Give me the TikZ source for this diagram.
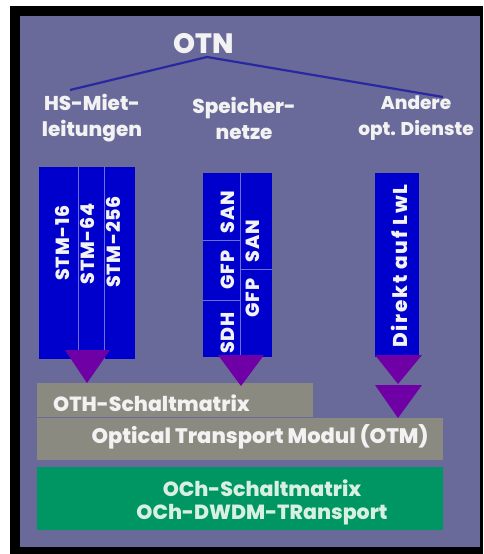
\documentclass[tikz,border=0pt]{standalone}
\usepackage{fontspec}
\setmainfont{Poppins}[BoldFont={* ExtraBold}]
\definecolor{bgpurple}{RGB}{106,106,154}
\definecolor{boxblue}{RGB}{0,0,204}
\definecolor{divline}{RGB}{110,110,230}
\definecolor{arrowpurple}{RGB}{110,0,165}
\definecolor{bargrey}{RGB}{138,138,128}
\definecolor{bargreen}{RGB}{0,150,100}
\definecolor{linkblue}{RGB}{40,40,160}
\definecolor{txt}{RGB}{242,242,242}
\definecolor{greentxt}{RGB}{215,240,225}
\begin{document}
\begin{tikzpicture}[x=1pt,y=-1pt,
  lbl/.style={text=txt,font=\bfseries\fontsize{20}{26}\selectfont,align=center,inner sep=0pt},
  vlbl/.style={text=txt,font=\bfseries\fontsize{19}{20}\selectfont\addfontfeatures{LetterSpace=4},rotate=90,inner sep=0pt},
  barlbl/.style={text=txt,font=\bfseries\fontsize{20.5}{22}\selectfont,inner sep=0pt},
  greenlbl/.style={text=greentxt,font=\bfseries\fontsize{20.5}{22}\selectfont,inner sep=0pt},
  divider/.style={divline,line width=0.8pt},
  arrowtri/.style={fill=arrowpurple}]
\useasboundingbox (0,0) rectangle (483,554);
\fill[white] (0,0) rectangle (483,554);
\fill[black] (10,6) rectangle (483,554);
\fill[bgpurple] (20,16) rectangle (480,547);
% title and tree
\node[text=txt,font=\bfseries\fontsize{28}{30}\selectfont,inner sep=0pt] (otn) at (204,44) {OTN};
\coordinate (apex) at (207,57);
\coordinate (hsend) at (70,90);
\coordinate (anend) at (443,97);
\draw[linkblue,line width=2.2pt] (hsend) -- (apex) -- (anend);
\node[lbl] (hs) at (92,118) {HS-Miet-\\leitungen};
\node[lbl] (sp) at (244,118) {Speicher-\\netze};
\node[lbl,font=\bfseries\fontsize{18.5}{26}\selectfont] (an) at (416,118) {Andere\\opt. Dienste};
% group 1
\fill[boxblue] (39,167) rectangle (135,359);
\draw[divider] (78,167) -- (78,359);
\draw[divider] (104,167) -- (104,359);
\node[vlbl] (s16) at (62,243) {STM-16};
\node[vlbl] (s64) at (87,244) {STM-64};
\node[vlbl] (s256) at (113,242) {STM-256};
% group 2
\fill[boxblue] (203,173) rectangle (272,357);
\draw[divider] (240,173) -- (240,357);
\draw[divider] (203,240) -- (240,240);
\draw[divider] (203,300) -- (240,300);
\draw[divider] (240,269) -- (272,269);
\node[vlbl] (san1) at (228,212) {SAN};
\node[vlbl] (gfp1) at (228,270) {GFP};
\node[vlbl] (sdh) at (228,333) {SDH};
\node[vlbl] (san2) at (253,241) {SAN};
\node[vlbl] (gfp2) at (253,298) {GFP};
% group 3
\fill[boxblue] (375,173) rectangle (419,357);
\node[vlbl,font=\bfseries\fontsize{20}{20}\selectfont\addfontfeatures{LetterSpace=9}] (lwl) at (399,266) {Direkt auf LwL};
% bars
\fill[bargrey] (37,418) rectangle (443,460);
\fill[bargrey] (37,383) rectangle (313,417);
\fill[bargreen] (37,467) rectangle (443,530);
% arrows
\fill[arrowtri] (65,350) -- (110,350) -- (87,383) -- cycle;
\fill[arrowtri] (218,355) -- (264,355) -- (241,386) -- cycle;
\fill[arrowtri] (375,355) -- (422,355) -- (398,384) -- cycle;
\fill[arrowtri] (375,385) -- (422,385) -- (398,418) -- cycle;
% bar labels
\node[barlbl,anchor=west] (oth) at (53,403) {OTH-Schaltmatrix};
\node[barlbl,font=\bfseries\fontsize{21}{22}\selectfont] (otm) at (260,437) {Optical Transport Modul (OTM)};
\node[greenlbl] (och1) at (262,488) {OCh-Schaltmatrix};
\node[greenlbl] (och2) at (262,515) {OCh-DWDM-TRansport};
\end{tikzpicture}
\end{document}
